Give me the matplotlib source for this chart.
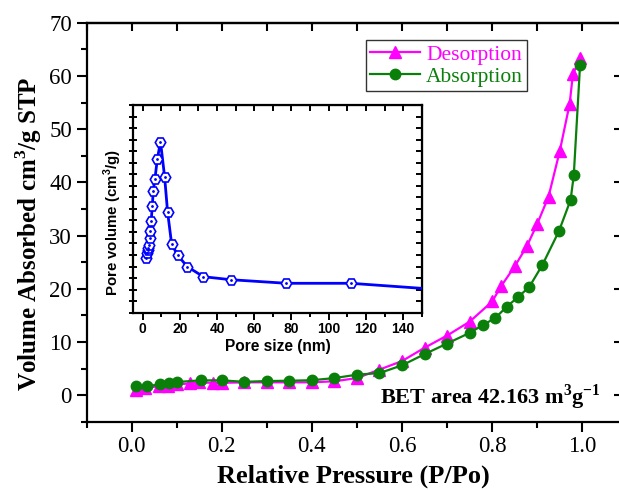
import matplotlib
matplotlib.use('Agg')
import matplotlib.pyplot as plt
from matplotlib.ticker import MultipleLocator, NullFormatter

# Main isotherm data
p_des = [0.01, 0.03, 0.06, 0.08, 0.10, 0.13, 0.15, 0.18, 0.20, 0.25, 0.30, 0.35, 0.40,
         0.45, 0.50, 0.55, 0.60, 0.65, 0.70, 0.75, 0.80, 0.82, 0.85, 0.877, 0.90, 0.925,
         0.95, 0.972, 0.979, 0.995]
v_des = [1.0, 1.3, 1.7, 1.8, 2.0, 2.2, 2.4, 2.3, 2.3, 2.4, 2.4, 2.4, 2.4,
         2.6, 3.2, 4.8, 6.4, 8.9, 11.2, 13.8, 17.6, 20.5, 24.2, 28.0, 32.2, 37.3,
         45.9, 54.8, 60.3, 63.3]
p_ads = [0.01, 0.034, 0.063, 0.083, 0.10, 0.154, 0.20, 0.25, 0.30, 0.35, 0.40, 0.45,
         0.50, 0.55, 0.60, 0.65, 0.70, 0.75, 0.78, 0.807, 0.832, 0.857, 0.882, 0.911,
         0.948, 0.974, 0.981, 0.995]
v_ads = [1.65, 1.7, 2.0, 2.27, 2.46, 2.77, 2.77, 2.5, 2.64, 2.7, 2.8, 3.2,
         3.84, 4.14, 5.6, 7.7, 9.7, 11.7, 13.2, 14.5, 16.6, 18.4, 20.3, 24.4,
         30.8, 36.7, 41.3, 62.1]

# Inset pore size distribution
pore_size = [2.0, 2.4, 2.75, 3.0, 3.3, 3.7, 4.2, 4.6, 5.2, 5.7, 6.6, 7.9, 9.6,
             11.8, 13.4, 15.6, 18.9, 24.0, 32.7, 47.5, 77.3, 111.9, 165.0]
pore_vol = [0.00477, 0.00515, 0.00543, 0.00563, 0.00587, 0.00650, 0.00711, 0.00795,
            0.00925, 0.01057, 0.01159, 0.01332, 0.01482, 0.01179, 0.00875, 0.00593,
            0.00497, 0.00399, 0.00312, 0.00286, 0.00255, 0.00255, 0.00194]

x_ticks_main = [0.0, 0.2, 0.4, 0.6, 0.8, 1.0]
y_ticks_main = [0, 10, 20, 30, 40, 50, 60, 70]

serif = ['Liberation Serif', 'DejaVu Serif']
sans = ['Liberation Sans', 'DejaVu Sans']

MAG = '#FF00FF'
GRN = '#0A800A'
BLU = '#0000FF'

fig = plt.figure(figsize=(6.19, 4.9), dpi=100)
ax = fig.add_axes([0.1398, 0.1394, 0.8632, 0.8141])
ax.set_xlim(-0.1, 1.0855)
ax.set_ylim(-5, 70)

ax.plot(p_des, v_des, color=MAG, marker='^', ms=8, lw=1.6, label='Desorption', zorder=3)
ax.plot(p_ads, v_ads, color=GRN, marker='o', ms=7.5, lw=1.6, label='Absorption', zorder=4)

for s in ax.spines.values():
    s.set_linewidth(1.6)

ax.set_xticks(x_ticks_main)
ax.set_yticks(y_ticks_main)
ax.xaxis.set_minor_locator(MultipleLocator(0.1))
ax.yaxis.set_minor_locator(MultipleLocator(5))
ax.tick_params(which='major', direction='out', length=7, width=1.5,
               top=False, right=False)
ax.tick_params(which='minor', direction='out', length=4, width=1.5, top=False, right=False)
ax.set_xticklabels([f'{v:.1f}' for v in x_ticks_main], family=serif, fontsize=16.5)
ax.set_yticklabels([str(v) for v in y_ticks_main], family=serif, fontsize=16.5)

secx = ax.secondary_xaxis('top')
secx.xaxis.set_major_locator(MultipleLocator(0.1))
secx.xaxis.set_major_formatter(NullFormatter())
secx.tick_params(direction='in', length=6, width=1.5)
secx.spines['top'].set_linewidth(1.6)
secy = ax.secondary_yaxis('right')
secy.yaxis.set_major_locator(MultipleLocator(10))
secy.yaxis.set_major_formatter(NullFormatter())
secy.tick_params(direction='in', length=5, width=1.5)

ax.set_xlabel('Relative Pressure (P/Po)', family=serif, fontsize=19, fontweight='bold',
              labelpad=5)
ax.set_ylabel('Volume Absorbed cm$^\\mathregular{3}$/g STP', family=serif, fontsize=18,
              fontweight='bold')
ax.yaxis.set_label_coords(-0.08, 0.47)

leg = ax.legend(loc='upper left', bbox_to_anchor=(0.591, 0.918),
                bbox_transform=fig.transFigure, frameon=True, fancybox=False,
                edgecolor='black', prop={'family': serif, 'size': 15.5},
                handlelength=2.3, borderpad=0.2, labelspacing=0.1, handletextpad=0.3,
                borderaxespad=0)
leg.get_frame().set_linewidth(1.0)
for txt, c in zip(leg.get_texts(), [MAG, GRN]):
    txt.set_color(c)

ax.text(0.963, 0.061, 'BET area 42.163 m$^\\mathregular{3}$g$^\\mathregular{-1}$',
        transform=ax.transAxes, ha='right', va='center', family=serif, fontsize=16,
        fontweight='bold')

# Inset
ins = fig.add_axes([0.2154, 0.3618, 0.4659, 0.4239])
ins.set_xlim(-5, 150)
ins.set_ylim(0, 0.018)
ins.plot(pore_size, pore_vol, color=BLU, lw=2, marker='H', ms=7.5, mfc='white',
         mec=BLU, mew=1.2, zorder=3)
ins.plot(pore_size, pore_vol, ls='none', marker='.', ms=2, color=BLU, zorder=4)
for s in ins.spines.values():
    s.set_linewidth(1.6)
ins.xaxis.set_major_locator(MultipleLocator(20))
ins.xaxis.set_minor_locator(MultipleLocator(10))
ins.yaxis.set_major_locator(MultipleLocator(0.001))
ins.yaxis.set_major_formatter(NullFormatter())
ins.tick_params(axis='x', which='major', direction='out', length=5, width=1.4,
                labelsize=10, pad=2)
ins.tick_params(axis='x', which='minor', direction='out', length=3, width=1.4)
ins.tick_params(axis='y', which='major', direction='inout', length=6, width=1.4)
for lab in ins.get_xticklabels():
    lab.set_family(sans)
    lab.set_fontweight('bold')
isx = ins.secondary_xaxis('top')
isx.xaxis.set_major_locator(MultipleLocator(10))
isx.xaxis.set_major_formatter(NullFormatter())
isx.tick_params(direction='in', length=4, width=1.4)
isy = ins.secondary_yaxis('right')
isy.yaxis.set_major_locator(MultipleLocator(0.001))
isy.yaxis.set_major_formatter(NullFormatter())
isy.tick_params(direction='in', length=4, width=1.4)
ins.set_xlabel('Pore size (nm)', family=sans, fontsize=11.2, fontweight='bold', labelpad=2)
ins.set_ylabel('Pore volume (cm$^\\mathregular{3}$/g)', family=sans, fontsize=10.8,
               fontweight='bold')
ins.yaxis.set_label_coords(-0.032, 0.432)

fig.savefig('out.png', dpi=100)
